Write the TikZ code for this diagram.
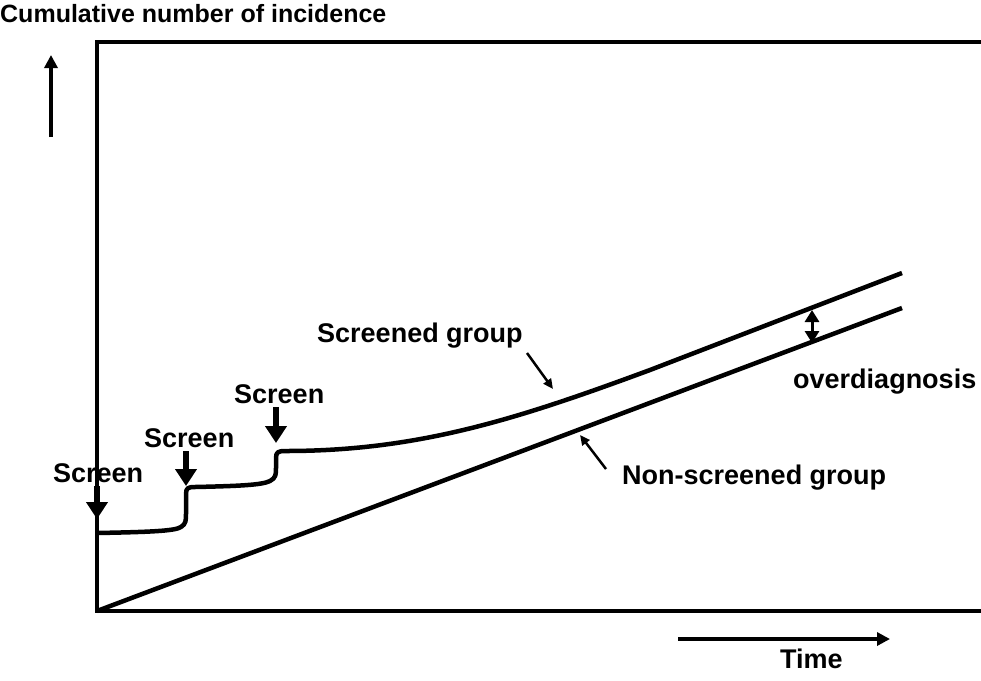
\documentclass[tikz,border=0pt]{standalone}
\usepackage{fontspec}
\setmainfont{Liberation Sans}
\usetikzlibrary{arrows.meta}
\begin{document}
\begin{tikzpicture}[x=1pt,y=-1pt,
  lbl/.style={font=\fontsize{27}{30}\selectfont\bfseries, inner sep=0pt, anchor=base west},
  ttl/.style={font=\fontsize{25}{28}\selectfont\bfseries, inner sep=0pt, anchor=base west},
  curve/.style={line width=4.5pt, line join=round},
  frame/.style={line width=4pt},
  scrarrow/.style={line width=6pt, -{Triangle[width=21pt,length=17pt]}},
  axarrow/.style={line width=4pt, -{Triangle[width=13pt,length=13pt]}},
  ptr/.style={line width=2.5pt, -{Triangle[width=9pt,length=10pt]}},
  dbl/.style={line width=3pt, {Triangle[width=14pt,length=12pt]}-{Triangle[width=14pt,length=12pt]}}
]
\useasboundingbox (0,0) rectangle (981,680);
% frame
\coordinate (o) at (97,611);
\coordinate (tl) at (97,42);
\coordinate (tr) at (981,42);
\coordinate (br) at (981,611);
\draw[frame] (tr) -- (tl) -- (o) -- (br);
% title and axis arrows
\node[ttl] (title) at (0,22) {Cumulative number of incidence};
\coordinate (ya) at (51,137);
\coordinate (yb) at (51,55);
\draw[axarrow] (ya) -- (yb);
\coordinate (xa) at (678,639);
\coordinate (xb) at (890,639);
\draw[axarrow] (xa) -- (xb);
\node[lbl] (time) at (780,668) {Time};
% non-screened line
\coordinate (nend) at (902,308);
\draw[curve] (o) -- (nend);
% screened curve
\coordinate (sstart) at (97,533);
\coordinate (send) at (902,273);
\draw[curve] (sstart) .. controls (150,532) and (175,531) .. (181,527)
  .. controls (186,524) and (186,520) .. (186,514) -- (186,494)
  .. controls (186,488) and (188,487) .. (195,487)
  .. controls (240,486) and (262,485) .. (270,481)
  .. controls (276,478) and (276,474) .. (276,468) -- (276,458)
  .. controls (276,452) and (278,451) .. (286,451)
  .. controls (420,451) and (520,418) .. (650,370) -- (send);
% screen labels and arrows
\node[lbl] (s1) at (53,482) {Screen};
\node[lbl] (s2) at (144,447) {Screen};
\node[lbl] (s3) at (234,403) {Screen};
\coordinate (a1s) at (97,486);
\coordinate (a1e) at (97,519);
\coordinate (a2s) at (186,451);
\coordinate (a2e) at (186,486);
\coordinate (a3s) at (276,407);
\coordinate (a3e) at (276,443);
\draw[scrarrow] (a1s) -- (a1e);
\draw[scrarrow] (a2s) -- (a2e);
\draw[scrarrow] (a3s) -- (a3e);
% group labels
\node[lbl] (sg) at (317,342) {Screened group};
\coordinate (sgp1) at (527,353);
\coordinate (sgp2) at (553,389);
\draw[ptr] (sgp1) -- (sgp2);
\node[lbl] (ng) at (622,484) {Non-screened group};
\coordinate (ngp1) at (606,469);
\coordinate (ngp2) at (580,435);
\draw[ptr] (ngp1) -- (ngp2);
% overdiagnosis
\coordinate (od1) at (812,310);
\coordinate (od2) at (812,343);
\draw[dbl] (od1) -- (od2);
\node[lbl] (od) at (793,388) {overdiagnosis};
\end{tikzpicture}
\end{document}
